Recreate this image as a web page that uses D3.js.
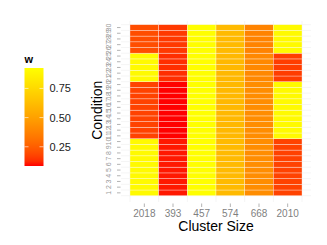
<!DOCTYPE html>
<html>
<head>
<meta charset="utf-8">
<script src="https://cdn.jsdelivr.net/npm/d3@7"></script>
<style>
  body { margin: 0; background: #fff; }
  text { font-family: "Liberation Sans", Arial, sans-serif; }
</style>
</head>
<body>
<div id="chart"></div>
<script>
// cluster sizes (x categories) and conditions (y)
var clusters = ["2018", "393", "457", "574", "668", "2010"];
var conditions = d3.range(1, 31);

// w values per cluster, conditions 1..30
var w2018 = [0.90,0.90,0.90,0.90,0.90,0.90,0.90,0.90,0.90,0.90,
             0.17,0.17,0.17,0.17,0.17,0.17,0.17,0.17,0.17,0.17,
             0.90,0.90,0.90,0.90,0.90,0.20,0.20,0.20,0.20,0.20];
var w393  = [0.10,0.10,0.10,0.10,0.10,0.10,0.10,0.10,0.10,0.10,
             0.085,0.085,0.085,0.085,0.085,0.085,0.085,0.085,0.085,0.085,
             0.13,0.13,0.13,0.13,0.13,0.15,0.15,0.15,0.15,0.15];
var w457  = [0.92,0.92,0.92,0.92,0.92,0.92,0.92,0.92,0.92,0.92,
             0.925,0.925,0.925,0.925,0.925,0.925,0.925,0.925,0.925,0.925,
             0.92,0.92,0.92,0.92,0.92,0.92,0.92,0.92,0.92,0.92];
var w574  = [0.61,0.61,0.61,0.61,0.61,0.61,0.61,0.61,0.61,0.61,
             0.60,0.60,0.60,0.60,0.60,0.60,0.60,0.60,0.60,0.60,
             0.60,0.60,0.60,0.60,0.60,0.61,0.61,0.61,0.61,0.61];
var w668  = [0.42,0.42,0.42,0.42,0.42,0.42,0.42,0.42,0.42,0.42,
             0.42,0.42,0.42,0.42,0.42,0.42,0.42,0.42,0.42,0.42,
             0.40,0.40,0.40,0.40,0.40,0.38,0.38,0.38,0.38,0.38];
var w2010 = [0.17,0.17,0.17,0.17,0.17,0.17,0.17,0.17,0.17,0.17,
             0.90,0.90,0.90,0.90,0.90,0.90,0.90,0.90,0.90,0.90,
             0.16,0.16,0.16,0.16,0.16,0.90,0.90,0.90,0.90,0.90];
var legendTicks = [0.25, 0.50, 0.75];

var series = [w2018, w393, w457, w574, w668, w2010];
var cells = [];
clusters.forEach(function(c, i){
  conditions.forEach(function(r, j){
    cells.push({cluster: c, condition: r, w: series[i][j]});
  });
});

var width = 327, height = 245;
var svg = d3.select("#chart").append("svg")
    .attr("width", width)
    .attr("height", height);

// panel
var panel = {left: 121, right: 311, top: 21, bottom: 202};
var tiles = {left: 130, right: 302, top: 24.7, bottom: 195.7};

var x = d3.scaleBand()
    .domain(clusters)
    .range([tiles.left, tiles.right]);

var y = d3.scaleBand()
    .domain(conditions)
    .range([tiles.bottom, tiles.top]);

var ext = d3.extent(cells, function(d){ return d.w; });
var color = d3.scaleLinear()
    .domain(ext)
    .range(["red", "yellow"])
    .interpolate(d3.interpolateLab);

// grid lines at tile boundaries
var g = svg.append("g");
var xb = clusters.map(function(c){ return x(c); }).concat([tiles.right]);
var yb = conditions.map(function(r){ return y(r); }).concat([tiles.bottom]);
g.selectAll(".vgrid").data(xb).enter().append("line")
    .attr("x1", function(d){ return d; }).attr("x2", function(d){ return d; })
    .attr("y1", panel.top).attr("y2", panel.bottom)
    .attr("stroke", "#ebebeb").attr("stroke-width", 0.5);
g.selectAll(".hgrid").data(yb).enter().append("line")
    .attr("y1", function(d){ return d; }).attr("y2", function(d){ return d; })
    .attr("x1", panel.left).attr("x2", panel.right)
    .attr("stroke", "#ebebeb").attr("stroke-width", 0.5);

// tiles
svg.append("g").selectAll("rect")
    .data(cells)
    .enter().append("rect")
    .attr("x", function(d){ return x(d.cluster); })
    .attr("y", function(d){ return y(d.condition); })
    .attr("width", x.bandwidth())
    .attr("height", y.bandwidth())
    .attr("fill", function(d){ return color(d.w); })
    .attr("stroke", "#ffffff")
    .attr("stroke-opacity", 0.55)
    .attr("stroke-width", 0.6);

// x axis
var xAxis = d3.axisBottom(x).tickSize(3.5).tickPadding(2.5);
var gx = svg.append("g")
    .attr("transform", "translate(0," + (panel.bottom + 1.5) + ")")
    .call(xAxis);
gx.select(".domain").remove();
gx.selectAll(".tick line").attr("stroke", "#7f7f7f").attr("stroke-width", 0.6);
gx.selectAll(".tick text").attr("fill", "#7f7f7f").style("font-size", "10px")
    .style("font-family", "Liberation Sans, Arial, sans-serif");

// y axis
var yAxis = d3.axisLeft(y).tickSize(3.5).tickPadding(2);
var gy = svg.append("g")
    .attr("transform", "translate(" + (panel.left - 0.5) + ",0)")
    .call(yAxis);
gy.select(".domain").remove();
gy.selectAll(".tick line").attr("stroke", "#7f7f7f").attr("stroke-width", 0.6);
gy.selectAll(".tick text")
    .attr("fill", "#9a9a9a")
    .style("font-size", "7px")
    .style("font-family", "Liberation Sans, Arial, sans-serif")
    .attr("text-anchor", "middle")
    .attr("dy", null)
    .attr("x", 0)
    .attr("transform", "translate(-12,0) rotate(-90)")
    .attr("dominant-baseline", "central");

// axis titles
svg.append("text")
    .attr("x", (tiles.left + tiles.right) / 2)
    .attr("y", 231)
    .attr("text-anchor", "middle")
    .style("font-size", "14px")
    .attr("fill", "#000")
    .text("Cluster Size");

svg.append("text")
    .attr("transform", "translate(102," + ((tiles.top + tiles.bottom) / 2) + ") rotate(-90)")
    .attr("text-anchor", "middle")
    .style("font-size", "14px")
    .attr("fill", "#000")
    .text("Condition");

// legend
var leg = {x: 24.5, top: 68, bottom: 166, w: 19};
var defs = svg.append("defs");
var grad = defs.append("linearGradient")
    .attr("id", "wgrad")
    .attr("x1", "0").attr("y1", "1").attr("x2", "0").attr("y2", "0");
d3.range(0, 1.0001, 0.05).forEach(function(t){
  grad.append("stop")
    .attr("offset", t)
    .attr("stop-color", color(ext[0] + t * (ext[1] - ext[0])));
});

svg.append("text")
    .attr("x", leg.x)
    .attr("y", 63)
    .style("font-size", "11px")
    .style("font-weight", "bold")
    .attr("fill", "#000")
    .text("w");

svg.append("rect")
    .attr("x", leg.x)
    .attr("y", leg.top)
    .attr("width", leg.w)
    .attr("height", leg.bottom - leg.top)
    .attr("fill", "url(#wgrad)");

var ly = d3.scaleLinear().domain(ext).range([leg.bottom, leg.top]);
var lt = svg.append("g");
legendTicks.forEach(function(v){
  lt.append("line")
    .attr("x1", leg.x).attr("x2", leg.x + 4)
    .attr("y1", ly(v)).attr("y2", ly(v))
    .attr("stroke", "#fff").attr("stroke-opacity", 0.6);
  lt.append("line")
    .attr("x1", leg.x + leg.w - 4).attr("x2", leg.x + leg.w)
    .attr("y1", ly(v)).attr("y2", ly(v))
    .attr("stroke", "#fff").attr("stroke-opacity", 0.6);
  lt.append("text")
    .attr("x", leg.x + leg.w + 6)
    .attr("y", ly(v))
    .attr("dy", "0.36em")
    .style("font-size", "11px")
    .attr("fill", "#1a1a1a")
    .text(d3.format(".2f")(v));
});
</script>
</body>
</html>
